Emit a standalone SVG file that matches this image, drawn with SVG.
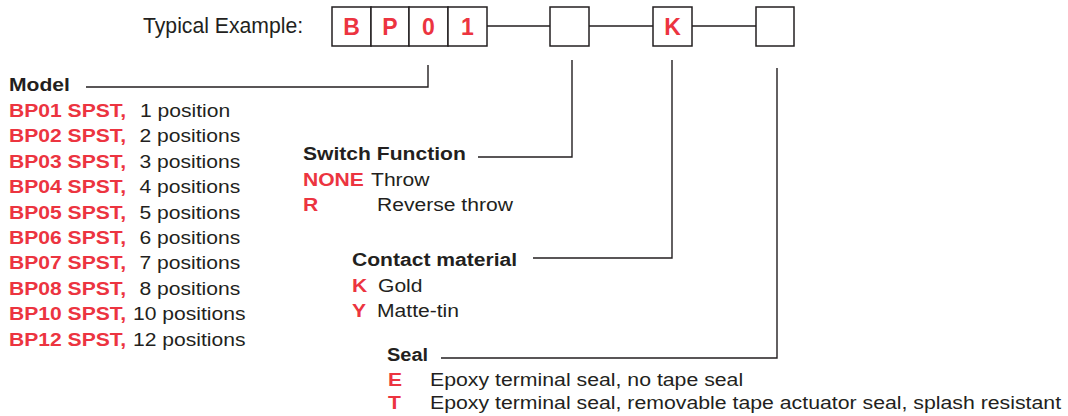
<svg xmlns="http://www.w3.org/2000/svg" width="1068" height="416" viewBox="0 0 1068 416">
<style>
.t{font-family:"Liberation Sans",Arial,sans-serif;font-size:18.5px;fill:#231f20}
.b{font-weight:bold}
.r{fill:#ec3440;font-weight:bold}
.cell{fill:#fff;stroke:#231f20;stroke-width:1.5}
.ln{fill:none;stroke:#231f20;stroke-width:1.4}
.big{font-family:"Liberation Sans",Arial,sans-serif;font-size:23px;font-weight:bold;fill:#ec3440;text-anchor:middle}
</style>
<rect width="1068" height="416" fill="#fff"/>
<g id="connectors">
<path class="ln" d="M487 26H550M589 26H653M692 26H756"/>
<path class="ln" d="M428 65V87H86"/>
<path class="ln" d="M572 60V157H478"/>
<path class="ln" d="M672 60V258H533"/>
<path class="ln" d="M777 68V358H441"/>
</g>
<g id="example">
<text class="t" x="143" y="33" style="font-size:21.2px">Typical Example:</text>
<rect class="cell" x="332" y="7" width="39" height="39"/>
<rect class="cell" x="371" y="7" width="38" height="39"/>
<rect class="cell" x="409" y="7" width="39" height="39"/>
<rect class="cell" x="448" y="7" width="39" height="39"/>
<text class="big" x="351.5" y="35">B</text>
<text class="big" x="390" y="35">P</text>
<text class="big" x="428.5" y="35">0</text>
<text class="big" x="467.5" y="35">1</text>
</g>
<g id="box-function"><rect class="cell" x="550" y="7" width="39" height="39"/></g>
<g id="box-contact"><rect class="cell" x="653" y="7" width="39" height="39"/><text class="big" x="672.5" y="35">K</text></g>
<g id="box-seal"><rect class="cell" x="756" y="7" width="38" height="39"/></g>
<g id="model">
<text class="t b" transform="translate(9 91) scale(1.14 1)">Model</text>
<text class="t r" transform="translate(9 117) scale(1.14 1)">BP01 SPST,</text><text class="t" transform="translate(140 117) scale(1.14 1)">1 position</text>
<text class="t r" transform="translate(9 142.4) scale(1.14 1)">BP02 SPST,</text><text class="t" transform="translate(139.5 142.4) scale(1.14 1)">2 positions</text>
<text class="t r" transform="translate(9 167.8) scale(1.14 1)">BP03 SPST,</text><text class="t" transform="translate(139.5 167.8) scale(1.14 1)">3 positions</text>
<text class="t r" transform="translate(9 193.2) scale(1.14 1)">BP04 SPST,</text><text class="t" transform="translate(139.5 193.2) scale(1.14 1)">4 positions</text>
<text class="t r" transform="translate(9 218.6) scale(1.14 1)">BP05 SPST,</text><text class="t" transform="translate(139.5 218.6) scale(1.14 1)">5 positions</text>
<text class="t r" transform="translate(9 244) scale(1.14 1)">BP06 SPST,</text><text class="t" transform="translate(139.5 244) scale(1.14 1)">6 positions</text>
<text class="t r" transform="translate(9 269.4) scale(1.14 1)">BP07 SPST,</text><text class="t" transform="translate(139.5 269.4) scale(1.14 1)">7 positions</text>
<text class="t r" transform="translate(9 294.8) scale(1.14 1)">BP08 SPST,</text><text class="t" transform="translate(139.5 294.8) scale(1.14 1)">8 positions</text>
<text class="t r" transform="translate(9 320.2) scale(1.14 1)">BP10 SPST,</text><text class="t" transform="translate(133 320.2) scale(1.14 1)">10 positions</text>
<text class="t r" transform="translate(9 345.6) scale(1.14 1)">BP12 SPST,</text><text class="t" transform="translate(133 345.6) scale(1.14 1)">12 positions</text>
</g>
<g id="switch-function">
<text class="t b" transform="translate(303 160) scale(1.14 1)">Switch Function</text>
<text class="t r" transform="translate(303 186) scale(1.14 1)">NONE</text><text class="t" transform="translate(371 186) scale(1.14 1)">Throw</text>
<text class="t r" transform="translate(303 211) scale(1.14 1)">R</text><text class="t" transform="translate(377 211) scale(1.14 1)">Reverse throw</text>
</g>
<g id="contact-material">
<text class="t b" transform="translate(352 266) scale(1.14 1)">Contact material</text>
<text class="t r" transform="translate(352 292) scale(1.14 1)">K</text><text class="t" transform="translate(378 292) scale(1.14 1)">Gold</text>
<text class="t r" transform="translate(352 317) scale(1.14 1)">Y</text><text class="t" transform="translate(377 317) scale(1.14 1)">Matte-tin</text>
</g>
<g id="seal">
<text class="t b" transform="translate(387 361) scale(1.08 1)">Seal</text>
<text class="t r" transform="translate(388 386) scale(1.14 1)">E</text><text class="t" transform="translate(430 386) scale(1.15 1)">Epoxy terminal seal, no tape seal</text>
<text class="t r" transform="translate(388 409) scale(1.14 1)">T</text><text class="t" transform="translate(430 409) scale(1.15 1)">Epoxy terminal seal, removable tape actuator seal, splash resistant</text>
</g>
</svg>
